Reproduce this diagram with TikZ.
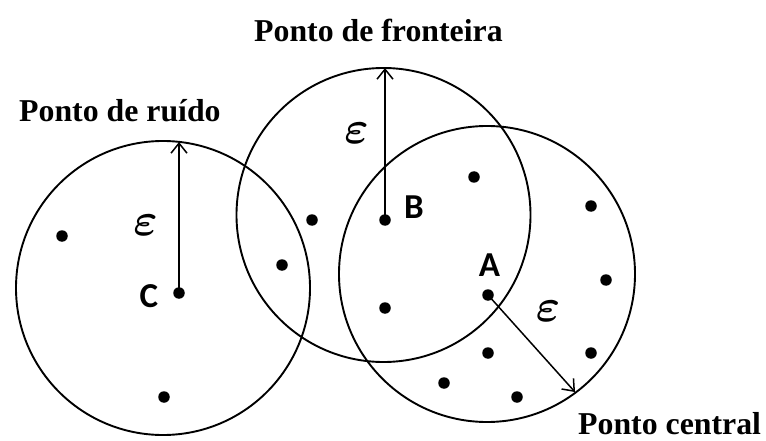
\documentclass[tikz,border=0pt]{standalone}
\usepackage{fontspec}
\setmainfont{Liberation Serif}
\newfontfamily\lblfont{Carlito}
\usetikzlibrary{arrows.meta}
\begin{document}
\begin{tikzpicture}[x=1pt,y=-1pt,
  ring/.style={line width=1.9pt},
  pt/.style={circle,fill=black,inner sep=0pt,minimum size=11.5pt},
  rad/.style={line width=1.5pt,-{Straight Barb[length=10pt,width=16pt,line width=1.5pt]}},
  ttl/.style={font=\fontsize{31.8}{36}\selectfont\bfseries,inner sep=0pt,anchor=base west},
  lbl/.style={font=\lblfont\fontsize{35}{40}\selectfont\bfseries,inner sep=0pt},
  eps/.style={inner sep=0pt,scale=4.6,font=\boldmath}]
\useasboundingbox (0,0) rectangle (766,441);
% circles
\draw[ring] (163,288) circle[radius=147pt];
\draw[ring] (383.5,215) circle[radius=147pt];
\draw[ring] (487,274) circle[radius=148pt];
% core dots
\node[pt] (C) at (179,293) {};
\node[pt] (B) at (385,220) {};
\node[pt] (A) at (488,295) {};
% other dots
\node[pt] (p1) at (62,236) {};
\node[pt] (p2) at (312,220) {};
\node[pt] (p3) at (282,265) {};
\node[pt] (p4) at (164,397) {};
\node[pt] (p5) at (474,177) {};
\node[pt] (p6) at (591,206) {};
\node[pt] (p7) at (606,280) {};
\node[pt] (p8) at (385,308) {};
\node[pt] (p9) at (488,353) {};
\node[pt] (p10) at (591,353) {};
\node[pt] (p11) at (444,383) {};
\node[pt] (p12) at (517,397) {};
% arrow ends
\coordinate (Ctop) at (179,142);
\coordinate (Btop) at (385,68);
\coordinate (Aend) at (575,392);
\draw[rad] (C.center) -- (Ctop);
\draw[rad] (B.center) -- (Btop);
\draw[rad] (A.center) -- (Aend);
% labels
\node[lbl] (lC) at (149,296) {C};
\node[lbl] (lB) at (414,207) {B};
\node[lbl] (lA) at (489.5,265.5) {A};
\node[eps] (eC) at (145.5,225) {$\varepsilon$};
\node[eps] (eB) at (356.5,133.5) {$\varepsilon$};
\node[eps] (eA) at (548,311.5) {$\varepsilon$};
\node[ttl] (tC) at (19,122) {Ponto de ruído};
\node[ttl] (tB) at (254,42) {Ponto de fronteira};
\node[ttl] (tA) at (578,434) {Ponto central};
\end{tikzpicture}
\end{document}
